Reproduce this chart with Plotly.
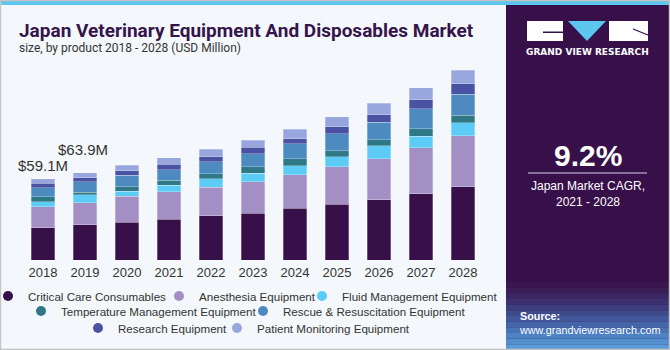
import plotly.graph_objects as go

years = ["2018", "2019", "2020", "2021", "2022", "2023", "2024", "2025", "2026", "2027", "2028"]
critical_care = [23.6, 25.8, 27.7, 29.9, 32.4, 34.1, 37.7, 40.6, 44.0, 48.4, 53.5]
anesthesia = [15.3, 16.1, 18.7, 19.9, 20.7, 23.1, 24.6, 27.3, 29.9, 33.6, 37.2]
fluid_mgmt = [3.6, 5.6, 3.9, 4.9, 6.3, 6.3, 6.6, 7.3, 9.5, 8.3, 9.5]
temperature_mgmt = [3.6, 1.9, 3.2, 3.4, 3.6, 4.6, 5.1, 4.6, 4.4, 5.6, 5.6]
rescue = [6.6, 7.8, 8.5, 7.8, 8.8, 9.5, 10.7, 12.4, 12.9, 14.6, 15.3]
research = [3.2, 2.9, 3.2, 3.9, 3.6, 4.6, 3.9, 5.1, 5.4, 6.6, 7.5]
patient_monitoring = [3.4, 3.6, 4.1, 4.9, 5.6, 5.4, 6.8, 7.1, 8.3, 8.8, 10.0]

series_names = ["Critical Care Consumables", "Anesthesia Equipment", "Fluid Management Equipment",
                "Temperature Management Equipment", "Rescue & Resuscitation Equipment",
                "Research Equipment", "Patient Monitoring Equipment"]
series_values = [critical_care, anesthesia, fluid_mgmt, temperature_mgmt, rescue, research, patient_monitoring]
series_colors = ["#37104a", "#a48fc5", "#5ccbf6", "#2f7885", "#4d8abf", "#4a53a3", "#97a7dd"]

labels = {"2018": "$59.1M", "2019": "$63.9M"}
label_style = {"2018": dict(yshift=3, xshift=0), "2019": dict(yshift=13, xshift=-2)}

W, H = 670, 350
L, R, T, B = 22, 484, 60, 260


def px(x):
    return (x - L) / (R - L)


def py(y):
    return (B - y) / (B - T)


# legend entry placement (pixel position of each entry's marker)
legend_pos = [(14, 296), (185, 296), (328, 296), (47, 311), (269, 311), (104, 328), (243, 328)]
SYM_OFFSET = 22

fig = go.Figure()
for name, vals, col in zip(series_names, series_values, series_colors):
    fig.add_trace(go.Bar(x=years, y=vals, name=name,
                         marker=dict(color=col, line=dict(color="rgba(255,255,255,0.35)", width=0.8)),
                         showlegend=False, hoverinfo="y+name"))
legend_layouts = {}
for k, (name, col) in enumerate(zip(series_names, series_colors)):
    lg = "legend" if k == 0 else f"legend{k + 1}"
    fig.add_trace(go.Scatter(x=[None], y=[None], mode="markers", name=name, legend=lg,
                             marker=dict(color=col, size=10, symbol="circle")))
    mx, my = legend_pos[k]
    legend_layouts[lg] = dict(orientation="h", xanchor="left", yanchor="middle", bgcolor="rgba(0,0,0,0)",
                              font=dict(size=11.6, color="#333333", family="Liberation Sans"), itemwidth=30,
                              x=px(mx - 4 - SYM_OFFSET), y=py(my), borderwidth=0)

totals = [sum(v) for v in zip(*series_values)]
annotations = []
for yr, txt in labels.items():
    i = years.index(yr)
    annotations.append(dict(xref="x", yref="y", x=i, y=totals[i], text=txt, showarrow=False,
                            yanchor="bottom", **label_style[yr],
                            font=dict(size=15, color="#333333", family="Liberation Sans")))

shapes = []
shapes.append(dict(type="rect", xref="paper", yref="paper", x0=px(506), x1=px(670), y0=py(350), y1=py(0),
                   fillcolor="#37104a", line=dict(width=0), layer="below"))
grad = ["#3a1650", "#3b1d58", "#3c2663", "#3d3170", "#3e3d7d", "#3f4a8b", "#41589a", "#4466a8",
        "#4874b6", "#4d82c3", "#538fcf", "#5a9bd9"]
y0 = 282
step = (350 - y0) / len(grad)
for k, c in enumerate(grad):
    shapes.append(dict(type="rect", xref="paper", yref="paper", x0=px(506), x1=px(670),
                       y0=py(y0 + (k + 1) * step), y1=py(y0 + k * step), fillcolor=c, line=dict(width=0),
                       layer="below"))
shapes.append(dict(type="rect", xref="paper", yref="paper", x0=px(0), x1=px(670), y0=py(5), y1=py(0),
                   fillcolor="#5cc6ef", line=dict(width=0), layer="above"))
shapes.append(dict(type="rect", xref="paper", yref="paper", x0=px(0.5), x1=px(669.5), y0=py(349.5), y1=py(0.5),
                   fillcolor="rgba(0,0,0,0)", line=dict(width=1.5, color="#c4c4c4"), layer="above"))
# logo
shapes.append(dict(type="rect", xref="paper", yref="paper", x0=px(527), x1=px(563), y0=py(41), y1=py(21),
                   fillcolor="white", line=dict(width=0)))
shapes.append(dict(type="rect", xref="paper", yref="paper", x0=px(543), x1=px(563), y0=py(33), y1=py(31.5),
                   fillcolor="#37104a", line=dict(width=0)))
shapes.append(dict(type="path", xref="paper", yref="paper",
                   path=f"M {px(568)} {py(21)} L {px(606)} {py(21)} L {px(587)} {py(41)} Z",
                   fillcolor="#5cc6ef", line=dict(width=0)))
shapes.append(dict(type="rect", xref="paper", yref="paper", x0=px(609), x1=px(648), y0=py(41), y1=py(21),
                   fillcolor="white", line=dict(width=0)))
shapes.append(dict(type="line", xref="paper", yref="paper", x0=px(633), x1=px(648), y0=py(29), y1=py(35),
                   line=dict(width=1.2, color="#37104a")))
shapes.append(dict(type="line", xref="paper", yref="paper", x0=px(528), x1=px(647), y0=py(173), y1=py(173),
                   line=dict(width=1, color="#d8d0e0")))

annotations.append(dict(xref="paper", yref="paper", x=px(17), y=py(31), xanchor="left", yanchor="middle",
                        text="<b>Japan Veterinary Equipment And Disposables Market</b>", showarrow=False,
                        font=dict(size=19, color="#35154a", family="Roboto")))
annotations.append(dict(xref="paper", yref="paper", x=px(17), y=py(48), xanchor="left", yanchor="middle",
                        text="size, by product 2018 - 2028 (USD Million)", showarrow=False,
                        font=dict(size=12, color="#333333", family="Roboto")))
annotations.append(dict(xref="paper", yref="paper", x=px(587.5), y=py(52), xanchor="center", yanchor="middle",
                        text="<b>GRAND VIEW RESEARCH</b>", showarrow=False,
                        font=dict(size=9, color="#ffffff", family="DejaVu Sans")))
annotations.append(dict(xref="paper", yref="paper", x=px(587.5), y=py(155), xanchor="center", yanchor="middle",
                        text="<b>9.2%</b>", showarrow=False,
                        font=dict(size=30, color="#ffffff", family="Liberation Sans")))
annotations.append(dict(xref="paper", yref="paper", x=px(587.5), y=py(194), xanchor="center", yanchor="middle",
                        text="Japan Market CAGR,<br>2021 - 2028", showarrow=False,
                        font=dict(size=12, color="#ffffff", family="Liberation Sans")))
annotations.append(dict(xref="paper", yref="paper", x=px(517), y=py(323), xanchor="left", yanchor="middle",
                        text="<b>Source:</b><br>www.grandviewresearch.com", showarrow=False, align="left",
                        font=dict(size=10.8, color="#ffffff", family="Liberation Sans")))

fig.update_layout(
    width=W, height=H,
    margin=dict(l=L, r=W - R, t=T, b=H - B, autoexpand=False),
    paper_bgcolor="#f4f8fc", plot_bgcolor="#f4f8fc",
    barmode="stack", bargap=0.43,
    xaxis=dict(type="category", showgrid=False, showline=False, zeroline=False, ticks="",
               tickfont=dict(size=13, color="#333333", family="Liberation Sans"), range=[-0.5, 10.5],
               ticklabelstandoff=3),
    yaxis=dict(visible=False, range=[0, 146]),
    showlegend=True,
    shapes=shapes,
    annotations=annotations,
    **legend_layouts,
)

fig.write_html("out.html")
